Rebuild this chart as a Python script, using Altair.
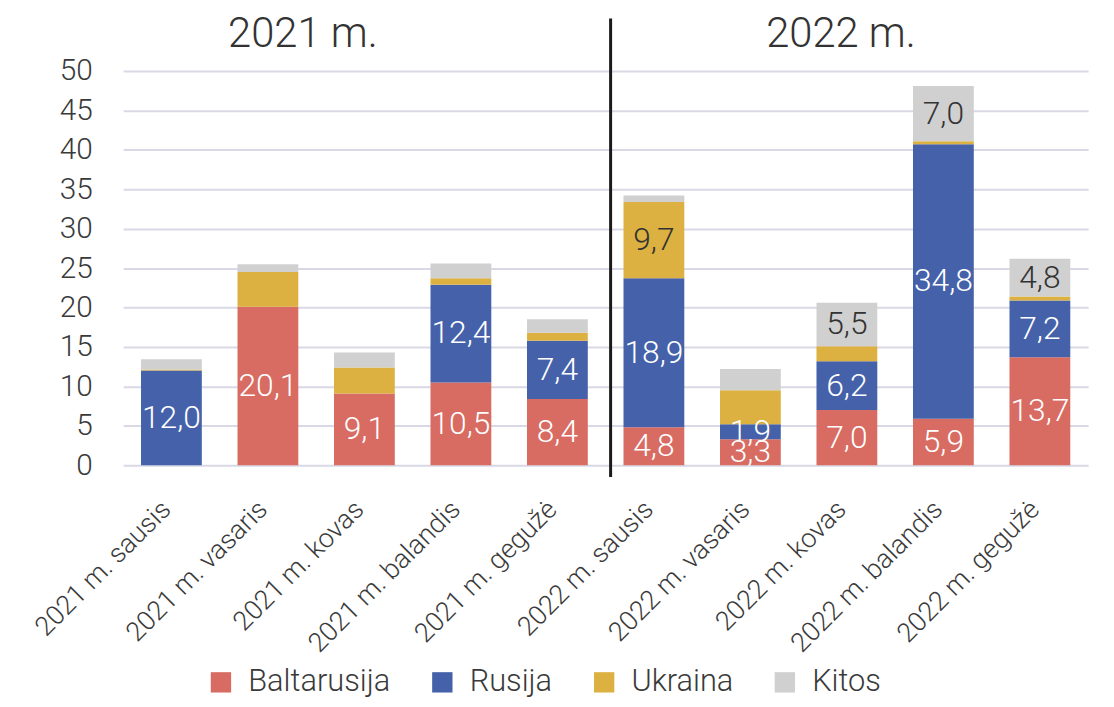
import altair as alt
import pandas as pd

months = ["2021 m. sausis", "2021 m. vasaris", "2021 m. kovas", "2021 m. balandis", "2021 m. gegužė",
          "2022 m. sausis", "2022 m. vasaris", "2022 m. kovas", "2022 m. balandis", "2022 m. gegužė"]
series = ["Baltarusija", "Rusija", "Ukraina", "Kitos"]
colors = ["#D86B62", "#4461A9", "#DCB141", "#D0D0D0"]

baltarusija = [0.0, 20.1, 9.1, 10.5, 8.4, 4.8, 3.3, 7.0, 5.9, 13.7]
rusija = [12.0, 0.0, 0.0, 12.4, 7.4, 18.9, 1.9, 6.2, 34.8, 7.2]
ukraina = [0.15, 4.4, 3.3, 0.8, 1.0, 9.7, 4.3, 1.9, 0.4, 0.5]
kitos = [1.3, 1.0, 1.9, 1.9, 1.7, 0.8, 2.7, 5.5, 7.0, 4.8]

# which segment values are labelled in the original
show_baltarusija = [0, 1, 1, 1, 1, 1, 1, 1, 1, 1]
show_rusija = [1, 0, 0, 1, 1, 1, 1, 1, 1, 1]
show_ukraina = [0, 0, 0, 0, 0, 1, 0, 0, 0, 0]
show_kitos = [0, 0, 0, 0, 0, 0, 0, 1, 1, 1]

year_titles = ["2021 m.", "2022 m."]
y_ticks = [0, 5, 10, 15, 20, 25, 30, 35, 40, 45, 50]

rows = []
for si, (name, vals, shows) in enumerate(zip(
        series,
        [baltarusija, rusija, ukraina, kitos],
        [show_baltarusija, show_rusija, show_ukraina, show_kitos])):
    for m, v, s in zip(months, vals, shows):
        rows.append({"month": m, "series": name, "value": v, "order": si, "show": s,
                     "dark": 1 if name in ("Ukraina", "Kitos") else 0})
df = pd.DataFrame(rows)

FONT = "Roboto"
TXT = "#3a3a3a"

x_scale = alt.Scale(paddingInner=0.37, paddingOuter=0.185)
y_scale = alt.Scale(domain=[0, 50], nice=False)
x_axis = alt.Axis(labelAngle=-45, labelFontSize=27, labelColor=TXT, labelFont=FONT,
                  labelFontWeight=300, labelPadding=31, labelOffset=-14, labelLimit=400,
                  labelOverlap=False, ticks=False, domain=False, grid=False, title=None)
y_axis = alt.Axis(values=y_ticks, labelFontSize=30, labelColor=TXT,
                  labelFont=FONT, labelFontWeight=300, labelPadding=31, ticks=False,
                  labelOverlap=False, domain=False, gridColor="#D9D9E6", gridWidth=2,
                  title=None)

bars = alt.Chart(df).mark_bar().encode(
    x=alt.X("month:N", sort=months, title=None, scale=x_scale, axis=x_axis),
    y=alt.Y("value:Q", stack="zero", scale=y_scale, title=None, axis=y_axis),
    color=alt.Color("series:N", scale=alt.Scale(domain=series, range=colors),
                    sort=series,
                    legend=alt.Legend(title=None, orient="none", direction="horizontal",
                                      legendX=83, legendY=600, symbolType="square",
                                      symbolSize=420, symbolStrokeWidth=0, labelFontSize=31,
                                      labelFont=FONT, labelFontWeight=300, labelColor=TXT,
                                      labelOffset=12, columnPadding=36, labelLimit=300)),
    order=alt.Order("order:Q", sort="ascending"),
)

labels = alt.Chart(df).transform_stack(
    stack="value", groupby=["month"], as_=["y0", "y1"],
    sort=[alt.SortField("order", order="ascending")]
).transform_calculate(
    mid="(datum.y0 + datum.y1) / 2",
    lab="replace(format(datum.value, '.1f'), '.', ',')"
).transform_filter("datum.show == 1").mark_text(
    fontSize=32, font=FONT, fontWeight=300, baseline="middle"
).encode(
    x=alt.X("month:N", sort=months, title=None, scale=x_scale, axis=x_axis),
    y=alt.Y("mid:Q", scale=y_scale, title=None, axis=y_axis),
    text="lab:N",
    color=alt.condition("datum.dark == 1", alt.value("#333333"), alt.value("white")),
)

tdf = pd.DataFrame({"t": year_titles, "px": [181, 723]})
titles = alt.Chart(tdf).mark_text(fontSize=42, font=FONT, fontWeight=300, color="#333333",
                                   baseline="alphabetic", align="center").encode(
    x=alt.X("px:Q", scale=None), y=alt.value(-24), text="t:N")

divider = alt.Chart(pd.DataFrame({"a": [1]})).mark_rule(color="#1a1a1a", strokeWidth=3).encode(
    x=alt.value(491), y=alt.value(-53), y2=alt.value(409))

chart = alt.layer(bars, labels, titles, divider).properties(
    width=972, height=397,
    autosize=alt.AutoSizeParams(type="none"),
    padding={"left": 116, "top": 61, "right": 18, "bottom": 233},
).configure_view(stroke=None)

chart.save("out.html", embed_options={"renderer": "svg", "actions": False})
